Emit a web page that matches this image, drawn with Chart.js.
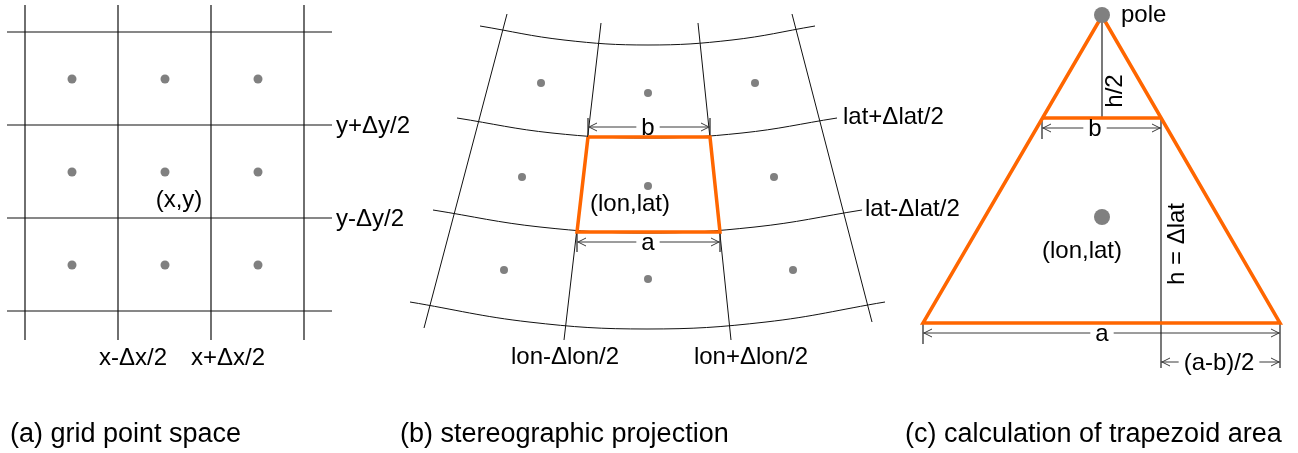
<!DOCTYPE html>
<html>
<head>
<meta charset="utf-8">
<title>Grid cell area on a stereographic grid</title>
<script src="https://cdn.jsdelivr.net/npm/chart.js@4.4.1/dist/chart.umd.min.js"></script>
<style>
  html, body { margin: 0; padding: 0; background: #ffffff; }
  #wrap { width: 1298px; height: 453px; }
</style>
</head>
<body>
<div id="wrap"><canvas id="fig" width="1298" height="453"></canvas></div>
<script>
// Figure coordinates: x 0..1298 to the right, y 0..453 downward.

// (a) grid point space
const gridLineX   = [25, 118, 211, 304];
const gridLineY   = [32, 125, 218, 311];
const gridExtentX = [7, 332];
const gridExtentY = [5, 340];
const gridPointX  = [72, 165, 258];
const gridPointY  = [79, 172, 265];

// (b) stereographic projection: parallels (curved) and meridians
const parallels = [
  [[480, 26], [564, 40], [648, 45], [732, 40], [815, 26]],
  [[457, 118], [552, 133], [647, 138], [742, 133], [837, 118]],
  [[433, 210], [540, 227], [647, 233], [755, 227], [862, 210]],
  [[410, 302], [529, 322], [647, 329], [766, 322], [885, 302]]
];
const meridians = [
  [[507, 14], [424, 328]],
  [[601, 23], [564, 340]],
  [[698, 23], [731, 340]],
  [[792, 14], [872, 322]]
];
const projectedPoints = [
  [541, 83], [648, 93], [755, 83],
  [522, 177], [648, 186], [774, 177],
  [504, 270], [648, 279], [793, 270]
];
const cellOutline = [[588, 137], [710, 137], [720, 232], [577, 232], [588, 137]];

// (c) calculation of trapezoid area
const triangleOutline = [[1102, 16], [1280, 323], [923, 323], [1102, 16]];
const trapezoidTop    = [[1042, 118], [1161, 118]];
const heightLines     = [
  [[1102, 15], [1102, 118]],
  [[1161, 118], [1161, 368]]
];
const poleAndCentre   = [[1102, 15], [1102, 217]];

// dimension arrows
const dimLabel  = ['b', 'a', 'b', 'a', '(a-b)/2'];
const dimStart  = [588, 577, 1042, 923, 1161];
const dimEnd    = [710, 720, 1161, 1280, 1280];
const dimLevel  = [127, 242, 128, 333, 362];
const dimLabelX = [648, 648, 1095, 1102, 1219];
const extensionLines = [
  [[588, 118], [588, 137]], [[710, 118], [710, 137]],
  [[577, 232], [577, 252]], [[720, 232], [720, 252]],
  [[1042, 118], [1042, 139]],
  [[923, 323], [923, 344]], [[1280, 323], [1280, 368]]
];

// text annotations
const annotations = [
  { text: 'y+Δy/2',     x: 336,  y: 126, align: 'left' },
  { text: 'y-Δy/2',     x: 336,  y: 219, align: 'left' },
  { text: '(x,y)',      x: 179,  y: 200, align: 'center' },
  { text: 'x-Δx/2',     x: 133,  y: 358, align: 'center' },
  { text: 'x+Δx/2',     x: 228,  y: 358, align: 'center' },
  { text: 'lat+Δlat/2', x: 843,  y: 117, align: 'left' },
  { text: 'lat-Δlat/2', x: 865,  y: 209, align: 'left' },
  { text: '(lon,lat)',  x: 630,  y: 204, align: 'center' },
  { text: 'lon-Δlon/2', x: 565,  y: 357, align: 'center' },
  { text: 'lon+Δlon/2', x: 751,  y: 357, align: 'center' },
  { text: 'pole',       x: 1121, y: 15,  align: 'left' },
  { text: '(lon,lat)',  x: 1082, y: 251, align: 'center' },
  { text: 'h/2',        x: 1115, y: 91,  align: 'center', rotate: true },
  { text: 'h = Δlat',   x: 1177, y: 244, align: 'center', rotate: true }
];
const captions = [
  { text: '(a) grid point space',              x: 10,  y: 435 },
  { text: '(b) stereographic projection',      x: 400, y: 435 },
  { text: '(c) calculation of trapezoid area', x: 905, y: 435 }
];

const FONT = '"Liberation Sans", Arial, Helvetica, sans-serif';
const LABEL_FONT = '24px ' + FONT;
const CAPTION_FONT = '27px ' + FONT;
const INK = '#000000';
const DOT = '#808080';
const ORANGE = '#ff6600';
const DIM = '#3a3a3a';

const toPts = arr => arr.map(([x, y]) => ({ x, y }));

function lineSet(points, color, width, order, tension) {
  return {
    data: toPts(points),
    showLine: true,
    borderColor: color,
    borderWidth: width,
    pointRadius: 0,
    pointHoverRadius: 0,
    tension: tension || 0,
    fill: false,
    order: order
  };
}
function dotSet(points, radius) {
  return {
    data: toPts(points),
    showLine: false,
    pointRadius: radius,
    pointHoverRadius: radius,
    pointBackgroundColor: DOT,
    pointBorderWidth: 0,
    order: 0
  };
}

const datasets = [];

// (a) grid
gridLineX.forEach(x => datasets.push(lineSet([[x, gridExtentY[0]], [x, gridExtentY[1]]], '#111', 1.2, 3)));
gridLineY.forEach(y => datasets.push(lineSet([[gridExtentX[0], y], [gridExtentX[1], y]], '#111', 1.2, 3)));
const gridPoints = [];
gridPointY.forEach(y => gridPointX.forEach(x => gridPoints.push([x, y])));
datasets.push(dotSet(gridPoints, 4.5));

// (b) projected grid
parallels.forEach(p => datasets.push(lineSet(p, '#111', 1, 3, 0.4)));
meridians.forEach(m => datasets.push(lineSet(m, '#111', 1, 3)));
datasets.push(dotSet(projectedPoints, 4));
datasets.push(lineSet(cellOutline, ORANGE, 3.5, 1));

// (c) trapezoid
datasets.push(lineSet(triangleOutline, ORANGE, 3.5, 1));
datasets.push(lineSet(trapezoidTop, ORANGE, 3.5, 1));
heightLines.forEach(h => datasets.push(lineSet(h, '#222', 1.2, 2)));
datasets.push(dotSet(poleAndCentre, 8));

// dimension lines and their extension ticks
dimLabel.forEach((_, i) => datasets.push(lineSet([[dimStart[i], dimLevel[i]], [dimEnd[i], dimLevel[i]]], DIM, 1, 2)));
extensionLines.forEach(e => datasets.push(lineSet(e, '#222', 1.2, 2)));

// arrowheads and text drawn on top of the plotted marks
const annotationPlugin = {
  id: 'annotationText',
  afterDatasetsDraw(chart) {
    const { ctx, scales } = chart;
    const px = v => scales.x.getPixelForValue(v);
    const py = v => scales.y.getPixelForValue(v);
    ctx.save();

    // open chevron arrowheads at both ends of each dimension line
    ctx.strokeStyle = DIM;
    ctx.lineWidth = 1;
    dimLabel.forEach((_, i) => {
      const y = py(dimLevel[i]);
      const x0 = px(dimStart[i]);
      const x1 = px(dimEnd[i]);
      ctx.beginPath();
      ctx.moveTo(x0 + 9, y - 4); ctx.lineTo(x0 + 1, y); ctx.lineTo(x0 + 9, y + 4);
      ctx.moveTo(x1 - 9, y - 4); ctx.lineTo(x1 - 1, y); ctx.lineTo(x1 - 9, y + 4);
      ctx.stroke();
    });

    // dimension labels on a white gap
    ctx.font = LABEL_FONT;
    ctx.textBaseline = 'middle';
    ctx.textAlign = 'center';
    dimLabel.forEach((t, i) => {
      const x = px(dimLabelX[i]);
      const y = py(dimLevel[i]);
      const w = ctx.measureText(t).width;
      ctx.fillStyle = '#ffffff';
      ctx.fillRect(x - w / 2 - 5, y - 3, w + 10, 6);
      ctx.fillStyle = INK;
      ctx.fillText(t, x, y + 1);
    });

    // free labels
    annotations.forEach(a => {
      ctx.fillStyle = INK;
      ctx.font = LABEL_FONT;
      ctx.textBaseline = 'middle';
      ctx.textAlign = a.align;
      if (a.rotate) {
        ctx.save();
        ctx.translate(px(a.x), py(a.y));
        ctx.rotate(-Math.PI / 2);
        ctx.fillText(a.text, 0, 0);
        ctx.restore();
      } else {
        ctx.fillText(a.text, px(a.x), py(a.y));
      }
    });

    // panel captions
    ctx.font = CAPTION_FONT;
    ctx.textAlign = 'left';
    ctx.textBaseline = 'middle';
    captions.forEach(c => ctx.fillText(c.text, px(c.x), py(c.y)));

    ctx.restore();
  }
};

new Chart(document.getElementById('fig'), {
  type: 'scatter',
  data: { datasets },
  options: {
    responsive: false,
    animation: false,
    devicePixelRatio: 1,
    layout: { padding: 0, autoPadding: false },
    events: [],
    clip: false,
    plugins: { legend: { display: false }, tooltip: { enabled: false } },
    scales: {
      x: { type: 'linear', min: 0, max: 1298, display: false },
      y: { type: 'linear', min: 0, max: 453, reverse: true, display: false }
    }
  },
  plugins: [annotationPlugin]
});
</script>
</body>
</html>
